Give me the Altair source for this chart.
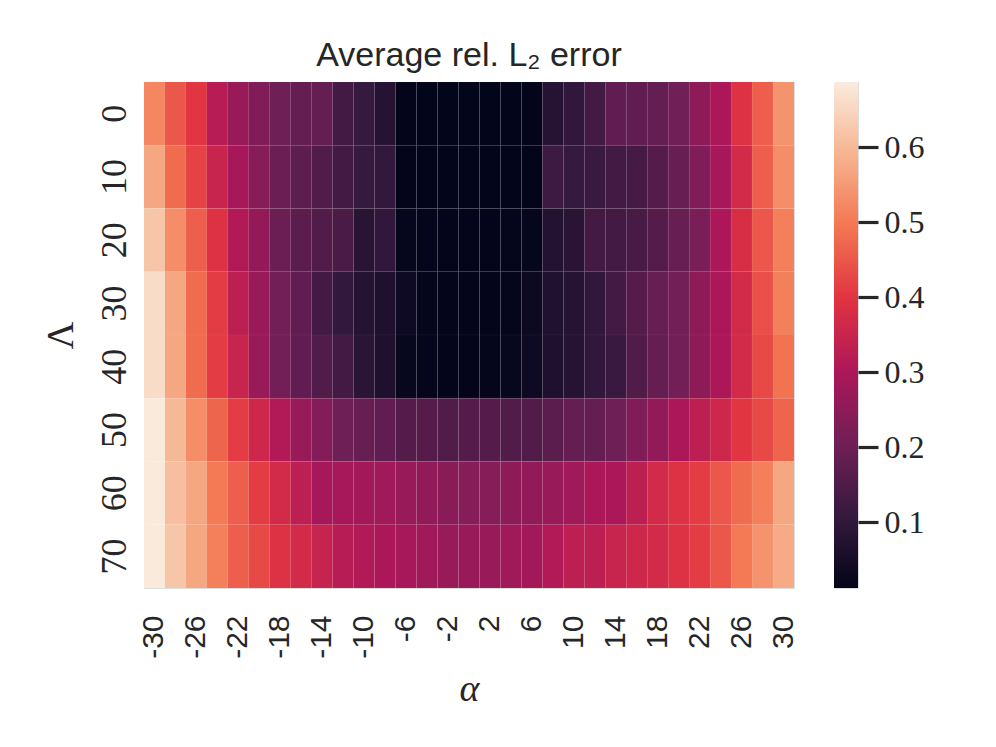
import altair as alt
import pandas as pd

alphas = list(range(-30, 31, 2))
lambdas = [0, 10, 20, 30, 40, 50, 60, 70]

row_0 = [0.52, 0.45, 0.40, 0.32, 0.27, 0.23, 0.20, 0.185, 0.185, 0.13, 0.11, 0.08,
         0.013, 0.012, 0.012, 0.012, 0.012, 0.012, 0.013,
         0.08, 0.10, 0.13, 0.18, 0.18, 0.185, 0.205, 0.25, 0.30, 0.39, 0.46, 0.54]
row_10 = [0.57, 0.48, 0.42, 0.35, 0.29, 0.24, 0.195, 0.175, 0.155, 0.13, 0.11, 0.105,
          0.013, 0.012, 0.012, 0.012, 0.012, 0.012, 0.013,
          0.12, 0.11, 0.115, 0.13, 0.135, 0.16, 0.19, 0.23, 0.29, 0.37, 0.46, 0.53]
row_20 = [0.62, 0.53, 0.46, 0.39, 0.31, 0.26, 0.195, 0.17, 0.155, 0.145, 0.085, 0.10,
          0.018, 0.015, 0.013, 0.013, 0.013, 0.015, 0.018,
          0.075, 0.085, 0.13, 0.13, 0.14, 0.16, 0.19, 0.22, 0.30, 0.38, 0.45, 0.51]
row_30 = [0.66, 0.57, 0.48, 0.41, 0.33, 0.27, 0.21, 0.18, 0.13, 0.105, 0.08, 0.065,
          0.035, 0.015, 0.013, 0.013, 0.013, 0.015, 0.03,
          0.07, 0.08, 0.10, 0.13, 0.16, 0.19, 0.21, 0.25, 0.30, 0.37, 0.44, 0.51]
row_40 = [0.66, 0.57, 0.48, 0.41, 0.35, 0.27, 0.21, 0.18, 0.155, 0.13, 0.09, 0.065,
          0.02, 0.015, 0.013, 0.013, 0.016, 0.02, 0.035,
          0.065, 0.08, 0.10, 0.115, 0.155, 0.185, 0.21, 0.25, 0.30, 0.37, 0.43, 0.49]
row_50 = [0.685, 0.60, 0.53, 0.47, 0.41, 0.36, 0.31, 0.27, 0.235, 0.20, 0.19, 0.18,
          0.16, 0.16, 0.155, 0.16, 0.16, 0.155, 0.155,
          0.17, 0.185, 0.185, 0.20, 0.23, 0.26, 0.30, 0.33, 0.36, 0.40, 0.43, 0.47]
row_60 = [0.685, 0.61, 0.57, 0.50, 0.46, 0.41, 0.37, 0.33, 0.29, 0.29, 0.285, 0.28,
          0.27, 0.255, 0.245, 0.24, 0.24, 0.25, 0.26,
          0.27, 0.28, 0.30, 0.30, 0.33, 0.37, 0.39, 0.41, 0.45, 0.48, 0.51, 0.57]
row_70 = [0.685, 0.62, 0.57, 0.51, 0.46, 0.43, 0.39, 0.37, 0.345, 0.32, 0.31, 0.30,
          0.29, 0.28, 0.27, 0.27, 0.27, 0.28, 0.285,
          0.31, 0.33, 0.33, 0.35, 0.36, 0.37, 0.39, 0.41, 0.45, 0.50, 0.54, 0.575]
rows = [row_0, row_10, row_20, row_30, row_40, row_50, row_60, row_70]

x_tick_labels = alphas[::2]
cbar_ticks = [0.1, 0.2, 0.3, 0.4, 0.5, 0.6]
vmin, vmax = 0.012, 0.687
rocket = ["#03051a", "#35193e", "#701f57", "#ad1759", "#e13342", "#f37651", "#f6b48f", "#faebdd"]

records = []
for lam, vals in zip(lambdas, rows):
    for a, v in zip(alphas, vals):
        records.append({"alpha": a, "lam": lam, "err": v})
df = pd.DataFrame(records)

n = len(rocket) - 1
dom = [vmin + (vmax - vmin) * k / n for k in range(n + 1)]

text_color = "#262626"

heat = alt.Chart(df).mark_rect(stroke="white", strokeWidth=0.5, strokeOpacity=0.07).encode(
    x=alt.X("alpha:O", sort=alphas, scale=alt.Scale(paddingInner=0, paddingOuter=0),
            axis=alt.Axis(values=x_tick_labels, labelAngle=270, labelFont="Liberation Sans",
                          labelFontSize=30, labelPadding=27, ticks=False, domain=False,
                          labelColor=text_color, labelExpr="'' + datum.value",
                          title="α", titleFont="Liberation Serif", titleFontStyle="italic",
                          titleFontWeight="normal", titleFontSize=38, titleColor=text_color,
                          titlePadding=12)),
    y=alt.Y("lam:O", sort=lambdas, scale=alt.Scale(paddingInner=0, paddingOuter=0),
            axis=alt.Axis(labelAngle=270, labelFont="Liberation Serif", labelFontSize=36,
                          labelPadding=30, ticks=False, domain=False, labelColor=text_color,
                          labelBaseline="middle", labelAlign="center",
                          title="Λ", titleFont="Liberation Serif", titleFontWeight="normal",
                          titleFontSize=38, titleColor=text_color, titlePadding=16)),
    color=alt.Color("err:Q", scale=alt.Scale(domain=dom, range=rocket, interpolate="rgb"),
                    legend=None),
).properties(
    width=650, height=506,
    title=alt.Title("Average rel. L₂ error", font="Liberation Sans", fontSize=34,
                    fontWeight="normal", color=text_color, offset=9),
)

cb_df = pd.DataFrame({"lo": [vmin], "hi": [vmax]})
stops = [alt.GradientStop(offset=k / n, color=c) for k, c in enumerate(rocket)]
cbar = alt.Chart(cb_df).mark_rect(
    fill=alt.Gradient(gradient="linear", stops=stops, x1=0, x2=0, y1=1, y2=0)
).encode(
    y=alt.Y("lo:Q", scale=alt.Scale(domain=[vmin, vmax], nice=False, zero=False),
            axis=alt.Axis(orient="right", values=cbar_ticks, format=".1f", title=None,
                          domain=False, grid=False, tickSize=20, tickWidth=3.2,
                          tickColor=text_color, labelFont="Liberation Serif",
                          labelFontSize=32, labelPadding=6, labelColor=text_color)),
    y2="hi:Q",
    x=alt.value(0), x2=alt.value(24),
).properties(width=24, height=506)

chart = alt.hconcat(heat, cbar, spacing=40, bounds="flush").properties(
    padding={"left": 33, "top": 30, "right": 5, "bottom": 5}
).configure_view(strokeWidth=0).configure(background="white")

chart.save("out.html", embed_options={"renderer": "svg", "actions": False})
